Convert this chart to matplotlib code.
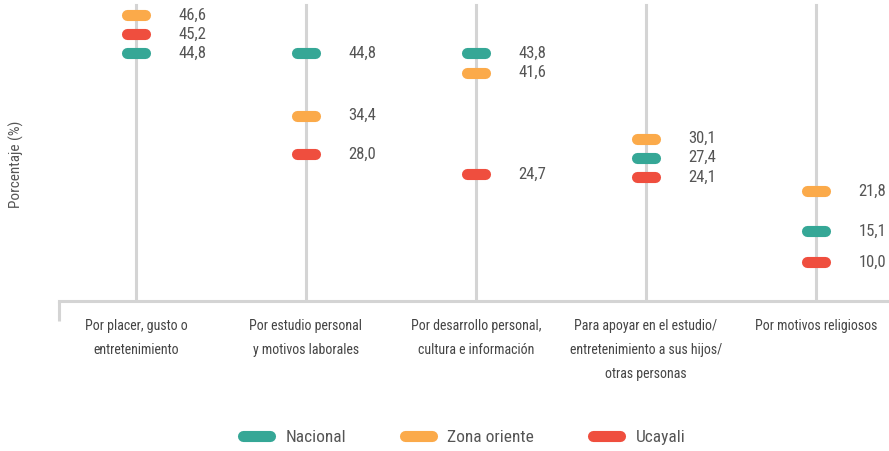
import numpy as np
import matplotlib
matplotlib.use("Agg")
import matplotlib.pyplot as plt
from matplotlib.lines import Line2D

plt.rcParams['font.family'] = ['Liberation Sans Narrow', 'Roboto Condensed', 'DejaVu Sans']

categories = [
    "Por placer, gusto o\nentretenimiento",
    "Por estudio personal\ny motivos laborales",
    "Por desarrollo personal,\ncultura e información",
    "Para apoyar en el estudio/\nentretenimiento a sus hijos/\notras personas",
    "Por motivos religiosos",
]
series = ["Nacional", "Zona oriente", "Ucayali"]
nacional = [44.8, 44.8, 43.8, 27.4, 15.1]
zona_oriente = [46.6, 34.4, 41.6, 30.1, 21.8]
ucayali = [45.2, 28.0, 24.7, 24.1, 10.0]
colors = ["#35a796", "#fbaa4a", "#ef4e3e"]

MIN_GAP = 3.2   # min vertical distance between pills of one category (data units)


def dodge(vals):
    # push close pills upward so they do not overlap
    order = np.argsort(vals)
    out = np.array(vals, dtype=float)
    for a, b in zip(order[:-1], order[1:]):
        if out[b] - out[a] < MIN_GAP:
            out[b] = out[a] + MIN_GAP
    return out


fig = plt.figure(figsize=(8.89, 4.51), dpi=100)
ax = fig.add_axes([59 / 889, 150 / 451, 830 / 889, 301 / 451])
ax.set_xlim(-0.453, 4.43)
ax.set_ylim(3.5, 53.7)

x = np.arange(len(categories))
for i in x:
    ax.axvline(i, ymin=0, ymax=0.985, color="#d4d4d4", lw=2.2, zorder=1)

data = np.array([nacional, zona_oriente, ucayali])
half = 0.055
for i in x:
    ys = dodge(data[:, i])
    for j in range(len(series)):
        ax.plot([i - half, i + half], [ys[j], ys[j]], color=colors[j], lw=8,
                solid_capstyle="round", zorder=3)
        ax.text(i + 0.25, ys[j], f"{data[j, i]:.1f}".replace(".", ","),
                ha="left", va="center", fontsize=12, color="#555555")

for s in ["top", "right", "left"]:
    ax.spines[s].set_visible(False)
ax.spines["bottom"].set_color("#d4d4d4")
ax.spines["bottom"].set_linewidth(2.2)
ax.plot([0, 0], [0, -0.066], transform=ax.transAxes, color="#d4d4d4",
        lw=2.2, clip_on=False, solid_capstyle="butt")
ax.set_yticks([])
ax.set_xticks(x)
ax.set_xticklabels(categories, fontsize=10, color="#444444", linespacing=1.9)
ax.tick_params(axis="x", length=0, pad=13)

fig.text(0.018, 0.635, "Porcentaje (%)", rotation=90, ha="center", va="center",
         fontsize=11, color="#555555")

handles = [Line2D([0], [0], color=c, lw=8, solid_capstyle="round") for c in colors]
fig.legend(handles, series, loc="center", bbox_to_anchor=(0.522, 0.031), ncol=3,
           frameon=False, fontsize=12.5, handlelength=1.55, handletextpad=0.9,
           columnspacing=3.4, labelcolor="#555555")

fig.savefig("out.png", dpi=100)
